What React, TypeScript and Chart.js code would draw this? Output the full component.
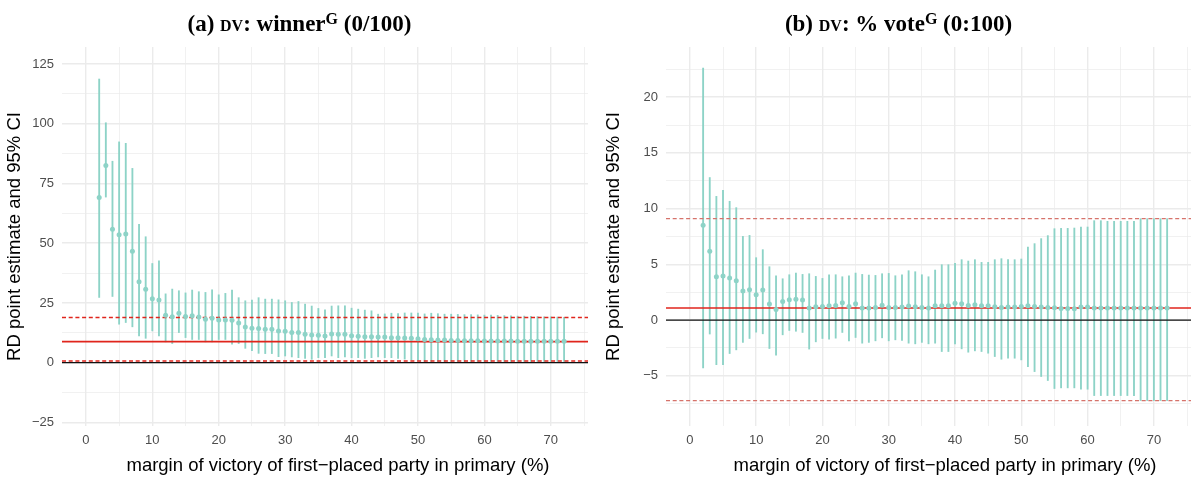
import React, { useEffect, useRef } from 'react';
import { Chart, registerables } from 'chart.js';

Chart.register(...registerables);

// ---------------- data ----------------
const margins = [2, 3, 4, 5, 6, 7, 8, 9, 10, 11, 12, 13, 14, 15, 16, 17, 18, 19, 20, 21, 22, 23, 24, 25, 26, 27, 28, 29, 30, 31, 32, 33, 34, 35, 36, 37, 38, 39, 40, 41, 42, 43, 44, 45, 46, 47, 48, 49, 50, 51, 52, 53, 54, 55, 56, 57, 58, 59, 60, 61, 62, 63, 64, 65, 66, 67, 68, 69, 70, 71, 72];

// panel (a): winner
const estA = [69.1, 82.5, 55.8, 53.5, 53.8, 46.6, 33.9, 30.7, 26.8, 26.2, 19.8, 19.2, 20.7, 19.3, 19.6, 19.1, 18.2, 18.6, 17.9, 17.9, 17.8, 16.6, 14.9, 14.4, 14.3, 14.0, 14.0, 13.3, 13.2, 12.6, 12.6, 11.9, 11.6, 11.5, 11.2, 12.0, 11.9, 11.9, 11.3, 11.1, 10.9, 10.8, 10.7, 10.7, 10.4, 10.4, 10.3, 10.2, 10.0, 9.7, 9.6, 9.5, 9.5, 9.3, 9.3, 9.2, 9.2, 9.2, 9.1, 9.1, 9.1, 9.1, 9.1, 9.0, 9.0, 9.0, 9.0, 9.0, 9.0, 9.0, 9.0];
const hiA = [118.7, 100.4, 84.3, 92.4, 91.8, 81.3, 57.9, 52.7, 41.5, 42.6, 28.8, 30.8, 30.1, 29.2, 30.4, 29.7, 29.4, 30.5, 28.4, 29.0, 30.4, 27.2, 25.9, 26.2, 27.2, 26.6, 26.6, 26.3, 25.9, 25.2, 25.6, 24.5, 23.7, 22.7, 22.1, 23.7, 23.8, 23.8, 22.8, 22.4, 22.0, 21.7, 20.3, 20.4, 20.7, 20.5, 20.8, 20.8, 20.8, 20.4, 20.7, 20.5, 20.3, 20.3, 20.2, 20.1, 20.1, 20.0, 19.9, 19.9, 19.8, 19.7, 19.6, 19.5, 19.5, 19.4, 19.3, 19.2, 19.2, 19.1, 19.0];
const loA = [27.3, 69.3, 27.7, 16.1, 16.8, 15.0, 11.2, 10.2, 13.3, 11.2, 8.7, 8.0, 12.6, 10.5, 9.7, 9.7, 8.7, 8.7, 9.7, 9.7, 7.7, 8.0, 6.0, 5.0, 3.9, 3.8, 3.8, 2.5, 2.8, 2.4, 2.1, 1.8, 1.4, 2.1, 2.1, 2.8, 2.1, 2.4, 2.1, 2.1, 1.8, 2.1, 2.4, 2.1, 2.1, 1.8, 1.5, 1.2, 0.9, 0.5, 0.5, 0.5, 0.5, 0.5, 0.5, 0.5, 0.5, 0.5, 0.5, 0.5, 0.5, 0.5, 0.5, 0.5, 0.5, 0.5, 0.5, 0.5, 0.5, 0.5, 0.5];
const refA = { zero: 0, mean: 8.8, upper: 18.9, lower: 0.7 };

// panel (b): % vote
const estB = [8.5, 6.17, 3.89, 3.95, 3.77, 3.53, 2.6, 2.72, 2.27, 2.69, 1.44, 0.96, 1.68, 1.83, 1.86, 1.8, 1.08, 1.19, 1.22, 1.28, 1.31, 1.55, 1.22, 1.46, 1.08, 1.08, 1.14, 1.34, 1.14, 1.14, 1.17, 1.26, 1.2, 1.14, 1.08, 1.28, 1.28, 1.28, 1.52, 1.46, 1.31, 1.37, 1.28, 1.28, 1.2, 1.14, 1.17, 1.17, 1.23, 1.28, 1.23, 1.17, 1.14, 1.11, 1.05, 1.05, 1.02, 1.17, 1.17, 1.08, 1.08, 1.08, 1.08, 1.08, 1.08, 1.08, 1.08, 1.08, 1.08, 1.08, 1.08];
const hiB = [22.6, 12.79, 11.1, 11.65, 10.66, 10.09, 7.51, 7.6, 5.6, 6.32, 4.79, 3.98, 3.71, 4.07, 4.22, 4.1, 4.16, 3.92, 3.74, 4.07, 4.07, 3.89, 3.98, 4.22, 4.1, 4.04, 4.01, 4.16, 4.19, 3.98, 4.07, 4.43, 4.34, 4.07, 3.89, 4.49, 4.97, 4.97, 5.09, 5.42, 5.3, 5.42, 5.18, 5.18, 5.42, 5.51, 5.42, 5.42, 5.48, 6.56, 6.86, 7.31, 7.58, 8.2, 8.23, 8.23, 8.26, 8.35, 8.35, 8.92, 8.92, 8.86, 8.86, 8.86, 8.86, 8.86, 9.1, 9.1, 9.1, 9.1, 9.1];
const loB = [-4.3, -1.25, -4.0, -4.0, -3.0, -2.67, -2.0, -1.65, -1.08, -1.23, -2.55, -3.15, -1.32, -0.93, -1.0, -1.11, -2.6, -1.95, -1.65, -1.71, -1.62, -1.11, -1.86, -1.56, -2.07, -2.0, -1.86, -1.59, -1.86, -1.77, -1.83, -2.07, -2.13, -2.0, -2.13, -2.07, -2.82, -2.82, -2.13, -2.58, -2.88, -2.76, -2.82, -2.97, -3.27, -3.51, -3.42, -3.42, -3.57, -4.17, -4.62, -5.06, -5.42, -6.14, -6.08, -6.08, -6.08, -6.2, -6.2, -6.77, -6.77, -6.77, -6.77, -6.77, -6.77, -6.77, -7.22, -7.22, -7.22, -7.22, -7.22];
const refB = { zero: 0, mean: 1.08, upper: 9.1, lower: -7.22 };

// ticks
const xTicks = [0, 5, 10, 15, 20, 25, 30, 35, 40, 45, 50, 55, 60, 65, 70, 75];
const xTickLabels = [0, 10, 20, 30, 40, 50, 60, 70];
const yTicksA = [-25, -12.5, 0, 12.5, 25, 37.5, 50, 62.5, 75, 87.5, 100, 112.5, 125];
const yTickLabelsA = [-25, 0, 25, 50, 75, 100, 125];
const yTicksB = [-7.5, -5, -2.5, 0, 2.5, 5, 7.5, 10, 12.5, 15, 17.5, 20, 22.5];
const yTickLabelsB = [-5, 0, 5, 10, 15, 20];

const X_MIN = -3.6;
const X_MAX = 75.6;

const xTitle = 'margin of victory of first\u2212placed party in primary (%)';
const yTitle = 'RD point estimate and 95% CI';

const TEAL = '#8DD3C7';
const RED = '#e0251c';

const fmt = (v: number) => (v < 0 ? '\u2212' + String(-v) : String(v));

type PanelProps = {
  left: number;
  est: number[];
  lo: number[];
  hi: number[];
  refs: { zero: number; mean: number; upper: number; lower: number };
  yMin: number;
  yMax: number;
  yTicks: number[];
  yLabels: number[];
  yWidth: number;
  rightPad: number;
  dashColor: string;
  xTitleCenter: number;
  title: React.ReactNode;
};

function Panel(p: PanelProps) {
  const ref = useRef<HTMLCanvasElement | null>(null);
  useEffect(() => {
    if (!ref.current) return;
    const hline = (v: number, color: string, width: number, dash: number[]) => ({
      type: 'line' as const,
      data: [
        { x: X_MIN, y: v },
        { x: X_MAX, y: v },
      ],
      borderColor: color,
      borderWidth: width,
      borderDash: dash,
      pointRadius: 0,
      fill: false,
      order: 1,
    });
    const chart = new Chart(ref.current, {
      type: 'bar',
      data: {
        datasets: [
          {
            type: 'bar',
            data: margins.map((x, i) => ({ x, y: [p.lo[i], p.hi[i]] })) as any,
            backgroundColor: TEAL,
            borderWidth: 0,
            barThickness: 1.2,
            order: 2,
          } as any,
          hline(p.refs.zero, '#111111', 1.3, []),
          hline(p.refs.mean, RED, 1.6, []),
          hline(p.refs.upper, p.dashColor, 1.4, [4, 2.7]),
          hline(p.refs.lower, p.dashColor, 1.4, [4, 2.7]),
          {
            type: 'scatter',
            data: margins.map((x, i) => ({ x, y: p.est[i] })),
            backgroundColor: TEAL,
            borderWidth: 0,
            pointRadius: 2.5,
            pointHoverRadius: 2.5,
            order: 0,
          } as any,
        ],
      },
      options: {
        animation: false,
        responsive: false,
        events: [],
        layout: { padding: { left: 0, right: p.rightPad, top: 47, bottom: 0 } },
        plugins: { legend: { display: false }, tooltip: { enabled: false } },
        scales: {
          x: {
            type: 'linear',
            min: X_MIN,
            max: X_MAX,
            offset: false,
            afterBuildTicks: (s: any) => {
              s.ticks = xTicks.map((v) => ({ value: v }));
            },
            afterFit: (s: any) => {
              s.height = 55;
            },
            ticks: {
              autoSkip: false,
              maxRotation: 0,
              padding: 7,
              color: '#4d4d4d',
              font: { family: 'Liberation Sans', size: 13 },
              callback: (v: any) => (xTickLabels.includes(Number(v)) ? fmt(Number(v)) : ''),
            },
            grid: {
              offset: false,
              drawTicks: false,
              color: '#ebebeb',
              lineWidth: (c: any) => (xTickLabels.includes(c.tick?.value) ? 1.4 : 0.7),
            },
            border: { display: false },
            title: { display: false },
          },
          y: {
            type: 'linear',
            min: p.yMin,
            max: p.yMax,
            afterBuildTicks: (s: any) => {
              s.ticks = p.yTicks.map((v) => ({ value: v }));
            },
            afterFit: (s: any) => {
              s.width = p.yWidth;
            },
            ticks: {
              autoSkip: false,
              padding: 8,
              color: '#4d4d4d',
              font: { family: 'Liberation Sans', size: 13 },
              callback: (v: any) => (p.yLabels.includes(Number(v)) ? fmt(Number(v)) : ''),
            },
            grid: {
              drawTicks: false,
              color: '#ebebeb',
              lineWidth: (c: any) => (p.yLabels.includes(c.tick?.value) ? 1.4 : 0.7),
            },
            border: { display: false },
            title: {
              display: true,
              text: yTitle,
              color: '#000000',
              font: { family: 'Liberation Sans', size: 18.5 },
              padding: { top: 4, bottom: 0 },
            },
          },
        },
      } as any,
    });
    return () => chart.destroy();
  }, []);
  return (
    <div style={{ position: 'absolute', left: p.left, top: 0, width: 599, height: 481 }}>
      <canvas ref={ref} width={599} height={481} style={{ position: 'absolute', left: 0, top: 0, width: 599, height: 481 }} />
      <div
        style={{
          position: 'absolute',
          left: 0,
          top: 11,
          width: 599,
          textAlign: 'center',
          fontFamily: "'Liberation Serif', serif",
          fontWeight: 'bold',
          fontSize: 23,
          lineHeight: '26px',
          color: '#000',
          whiteSpace: 'nowrap',
        }}
      >
        {p.title}
      </div>
      <div
        style={{
          position: 'absolute',
          left: p.xTitleCenter - 300,
          top: 454,
          width: 600,
          textAlign: 'center',
          fontFamily: "'Liberation Sans', sans-serif",
          fontSize: 18.5,
          lineHeight: '22px',
          color: '#000',
          whiteSpace: 'nowrap',
        }}
      >
        {xTitle}
      </div>
    </div>
  );
}

const sup = (t: string) => (
  <span style={{ fontSize: 16, position: 'relative', top: -7 }}>{t}</span>
);
const sc = (t: string) => <span style={{ fontVariant: 'small-caps' }}>{t}</span>;

export default function App() {
  return (
    <div style={{ position: 'fixed', left: 0, top: 0, width: 1198, height: 481, background: '#ffffff', overflow: 'hidden' }}>
      <Panel
        left={0}
        est={estA}
        lo={loA}
        hi={hiA}
        refs={refA}
        yMin={-26.5}
        yMax={132.1}
        yTicks={yTicksA}
        yLabels={yTickLabelsA}
        yWidth={62}
        rightPad={11}
        dashColor={RED}
        xTitleCenter={338}
        title={<>(a) {sc('dv')}: winner{sup('G')} (0/100)</>}
      />
      <Panel
        left={599}
        est={estB}
        lo={loB}
        hi={hiB}
        refs={refB}
        yMin={-9.5}
        yMax={24.5}
        yTicks={yTicksB}
        yLabels={yTickLabelsB}
        yWidth={67}
        rightPad={7}
        dashColor="#d6736b"
        xTitleCenter={346}
        title={<>(b) {sc('dv')}: % vote{sup('G')} (0:100)</>}
      />
    </div>
  );
}
